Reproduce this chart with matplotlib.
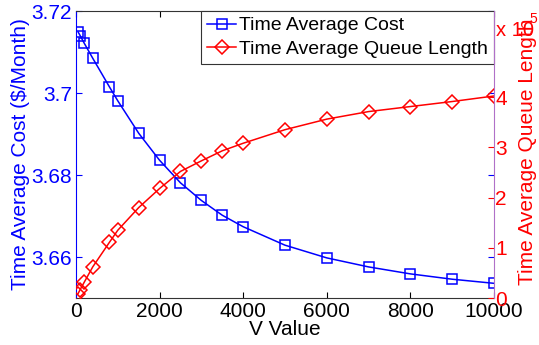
import matplotlib
matplotlib.use("Agg")
import matplotlib.pyplot as plt

plt.rcParams['font.family'] = ['Liberation Sans', 'DejaVu Sans']

V = [50, 100, 200, 400, 800, 1000, 1500, 2000, 2500, 3000, 3500, 4000,
     5000, 6000, 7000, 8000, 9000, 10000]
cost = [3.7149, 3.7140, 3.7121, 3.7085, 3.7015, 3.6981, 3.6902, 3.6836,
        3.6781, 3.6738, 3.6702, 3.6674, 3.6629, 3.6598, 3.6576, 3.6559,
        3.6546, 3.6536]
queue = [0.09, 0.17, 0.32, 0.62, 1.11, 1.35, 1.80, 2.18, 2.52, 2.73, 2.93,
         3.08, 3.35, 3.56, 3.71, 3.81, 3.91, 4.02]  # x 1e5

xticks = [0, 2000, 4000, 6000, 8000, 10000]
lticks = [3.66, 3.68, 3.70, 3.72]
lticklabels = ['3.66', '3.68', '3.7', '3.72']
rticks = [0, 1, 2, 3, 4]

fig = plt.figure(figsize=(5.39, 3.45), dpi=100)
ax = fig.add_axes([0.141, 0.136, 0.9165 - 0.141, 0.968 - 0.136])
ax2 = ax.twinx()

l1, = ax.plot(V, cost, color='#0000ff', marker='s', mfc='none', mec='#0000ff',
              ms=7, lw=1.1, mew=1.1, label='Time Average Cost')
l2, = ax2.plot(V, queue, color='#ff0000', marker='D', mfc='none', mec='#ff0000',
               ms=7, lw=1.1, mew=1.1, label='Time Average Queue Length')

ax.set_xlim(0, 10000)
ax.set_ylim(3.65, 3.72)
ax2.set_ylim(0, 5.71)
ax.set_xticks(xticks)
ax.set_xticklabels([str(t) for t in xticks])
ax.set_yticks(lticks)
ax.set_yticklabels(lticklabels)
ax2.set_yticks(rticks)
ax2.set_yticklabels([str(t) for t in rticks])

fs = 15
ax.tick_params(axis='x', direction='in', top=True, labelsize=fs, length=4, colors='black', pad=3)
ax.tick_params(axis='y', direction='in', right=True, labelsize=fs, length=4, colors='#0000ff', pad=3)
ax2.tick_params(axis='y', direction='in', labelsize=fs, length=4, colors='#ff0000', pad=1)

for s in ['top', 'bottom']:
    ax.spines[s].set_color('#333333')
ax.spines['left'].set_color('#0000ff')
ax2.spines['left'].set_visible(False)
ax2.spines['top'].set_visible(False)
ax2.spines['bottom'].set_visible(False)
ax2.spines['right'].set_color('#b070c8')
ax.spines['right'].set_visible(False)

ax.set_xlabel('V Value', fontsize=fs, labelpad=-1)
ax.set_ylabel('Time Average Cost ($/Month)', fontsize=fs, color='#0000ff', labelpad=1)
ax2.set_ylabel('Time Average Queue Length', fontsize=fs, color='#ff0000', labelpad=0)
ax2.yaxis.set_label_coords(1.058, 0.51)

fig.text(0.921, 0.885, 'x 10', color='#ff0000', fontsize=14.5, ha='left', va='bottom')
fig.text(0.982, 0.925, '5', color='#ff0000', fontsize=10, ha='left', va='bottom')

leg = ax.legend(handles=[l1, l2], loc='upper right', borderaxespad=0, fontsize=14,
                handlelength=1.5, handletextpad=0.15, borderpad=0.3, labelspacing=0.3,
                fancybox=False, framealpha=1, edgecolor='#333333')
leg.get_frame().set_linewidth(0.8)

fig.savefig('out.png', dpi=100)
